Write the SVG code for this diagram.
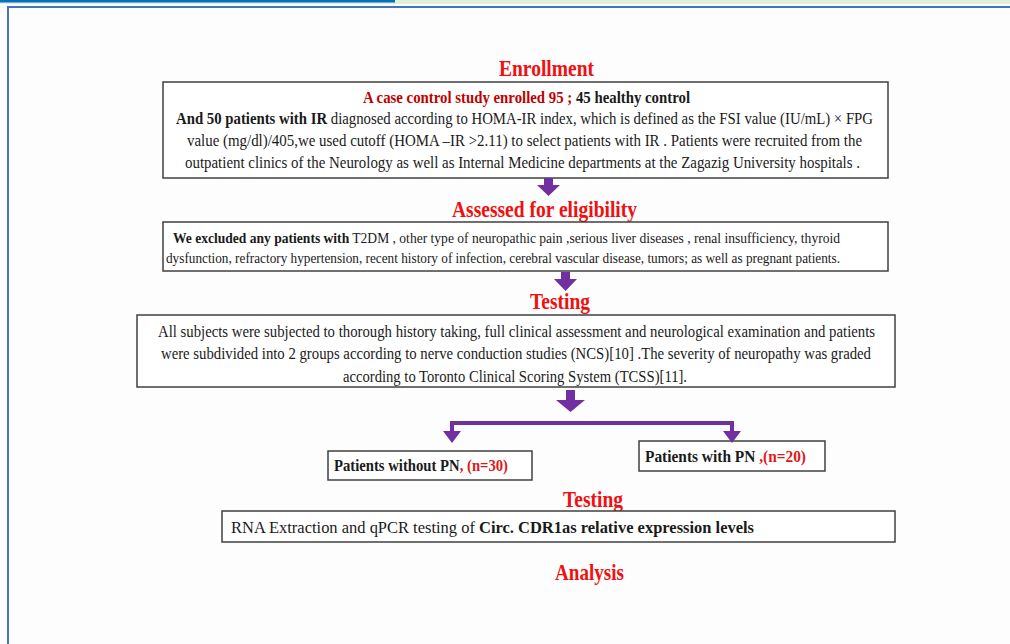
<svg xmlns="http://www.w3.org/2000/svg" width="1010" height="644" viewBox="0 0 1010 644">
<style>
.box{fill:#fff;stroke:#404040;stroke-width:1.5}
.t{font-family:"Liberation Serif","Times New Roman",serif;font-size:16px;fill:#1a1a1a}
.s{font-size:15px}
.b{font-weight:bold}
.h{font-family:"Liberation Serif","Times New Roman",serif;font-size:24px;font-weight:bold;fill:#f01010}
.red{fill:#e01818}
.dred{fill:#c00000}
.arr{fill:#7030a0}
.ln{stroke:#7030a0;stroke-width:4;fill:none}
</style>
<rect x="0" y="0" width="1010" height="644" fill="#fdfdfd"/>
<rect x="0" y="0" width="1010" height="4" fill="#e2efda"/>
<rect x="0" y="0" width="395" height="2.5" fill="#0070c0"/>
<line x1="7" y1="7" x2="1010" y2="7" stroke="#4472c4" stroke-width="2"/>
<line x1="8" y1="6" x2="8" y2="644" stroke="#4472c4" stroke-width="2"/>

<g id="enrollment">
<text class="h" x="499" y="76" textLength="95" lengthAdjust="spacingAndGlyphs">Enrollment</text>
<rect class="box" x="163" y="82" width="725" height="96"/>
<text class="t b" x="363" y="103" textLength="327" lengthAdjust="spacingAndGlyphs"><tspan class="dred">A case control study enrolled 95 ; </tspan>45 healthy control</text>
<text class="t" x="176" y="124" textLength="697" lengthAdjust="spacingAndGlyphs"><tspan class="b">And 50 patients with IR</tspan>  diagnosed according to HOMA-IR index, which is defined as the FSI value (IU/mL) × FPG</text>
<text class="t" x="187" y="146" textLength="675" lengthAdjust="spacingAndGlyphs">value (mg/dl)/405,we used cutoff (HOMA –IR &gt;2.11) to select patients with IR .   Patients were recruited from the</text>
<text class="t" x="185" y="168" textLength="675" lengthAdjust="spacingAndGlyphs">outpatient clinics of the Neurology as well as Internal Medicine departments at the Zagazig University hospitals .</text>
</g>

<g id="eligibility">
<text class="h" x="452" y="217" textLength="185" lengthAdjust="spacingAndGlyphs">Assessed for eligibility</text>
<rect class="box" x="163" y="222" width="725" height="49"/>
<text class="t s" x="173" y="243" textLength="667" lengthAdjust="spacingAndGlyphs"><tspan class="b">We excluded any patients with</tspan> T2DM , other type of neuropathic pain ,serious liver diseases , renal insufficiency, thyroid</text>
<text class="t s" x="166" y="263" textLength="674" lengthAdjust="spacingAndGlyphs">dysfunction, refractory hypertension, recent history of infection, cerebral vascular disease, tumors; as well as pregnant patients.</text>
</g>

<g id="testing1">
<text class="h" x="530" y="309" textLength="60" lengthAdjust="spacingAndGlyphs">Testing</text>
<rect class="box" x="137" y="315" width="758" height="72"/>
<text class="t" x="158" y="337" textLength="717" lengthAdjust="spacingAndGlyphs">All subjects were subjected to thorough history taking, full clinical assessment and neurological examination and patients</text>
<text class="t" x="161" y="359" textLength="710" lengthAdjust="spacingAndGlyphs">were subdivided into 2 groups according to nerve conduction studies (NCS)[10] .The severity of neuropathy was graded</text>
<text class="t" x="343" y="382" textLength="344" lengthAdjust="spacingAndGlyphs">according to Toronto Clinical Scoring System (TCSS)[11].</text>
</g>

<g id="without-pn">
<rect class="box" x="328" y="451" width="204" height="29"/>
<text class="t b" x="334" y="471" textLength="174" lengthAdjust="spacingAndGlyphs">Patients without PN<tspan class="red">, (n=30)</tspan></text>
</g>

<g id="with-pn">
<rect class="box" x="639" y="441" width="186" height="30"/>
<text class="t b" x="645" y="462" textLength="161" lengthAdjust="spacingAndGlyphs">Patients with PN <tspan class="red">,(n=20)</tspan></text>
</g>

<g id="testing2">
<text class="h" x="563" y="507" textLength="60" lengthAdjust="spacingAndGlyphs">Testing</text>
<rect class="box" x="222" y="511" width="673" height="31"/>
<text class="t" x="231" y="533" textLength="523" lengthAdjust="spacingAndGlyphs">RNA Extraction and qPCR  testing of <tspan class="b">Circ. CDR1as relative expression levels</tspan></text>
</g>

<g id="analysis">
<text class="h" x="555" y="580" textLength="69" lengthAdjust="spacingAndGlyphs">Analysis</text>
</g>

<g id="connectors">
<polygon class="arr" points="544,178 553,178 553,185 560,185 548.5,196 537,185 544,185"/>
<polygon class="arr" points="561,272 570,272 570,279 577,279 565.5,291 554,279 561,279"/>
<polygon class="arr" points="566,390 575,390 575,400 585,400 570.5,412 556,400 566,400"/>
<polyline class="ln" points="452,434 452,423 732,423 732,434"/>
<polygon class="arr" points="443,431 461,431 452,443"/>
<polygon class="arr" points="723,431 741,431 732,443"/>
</g>
</svg>
